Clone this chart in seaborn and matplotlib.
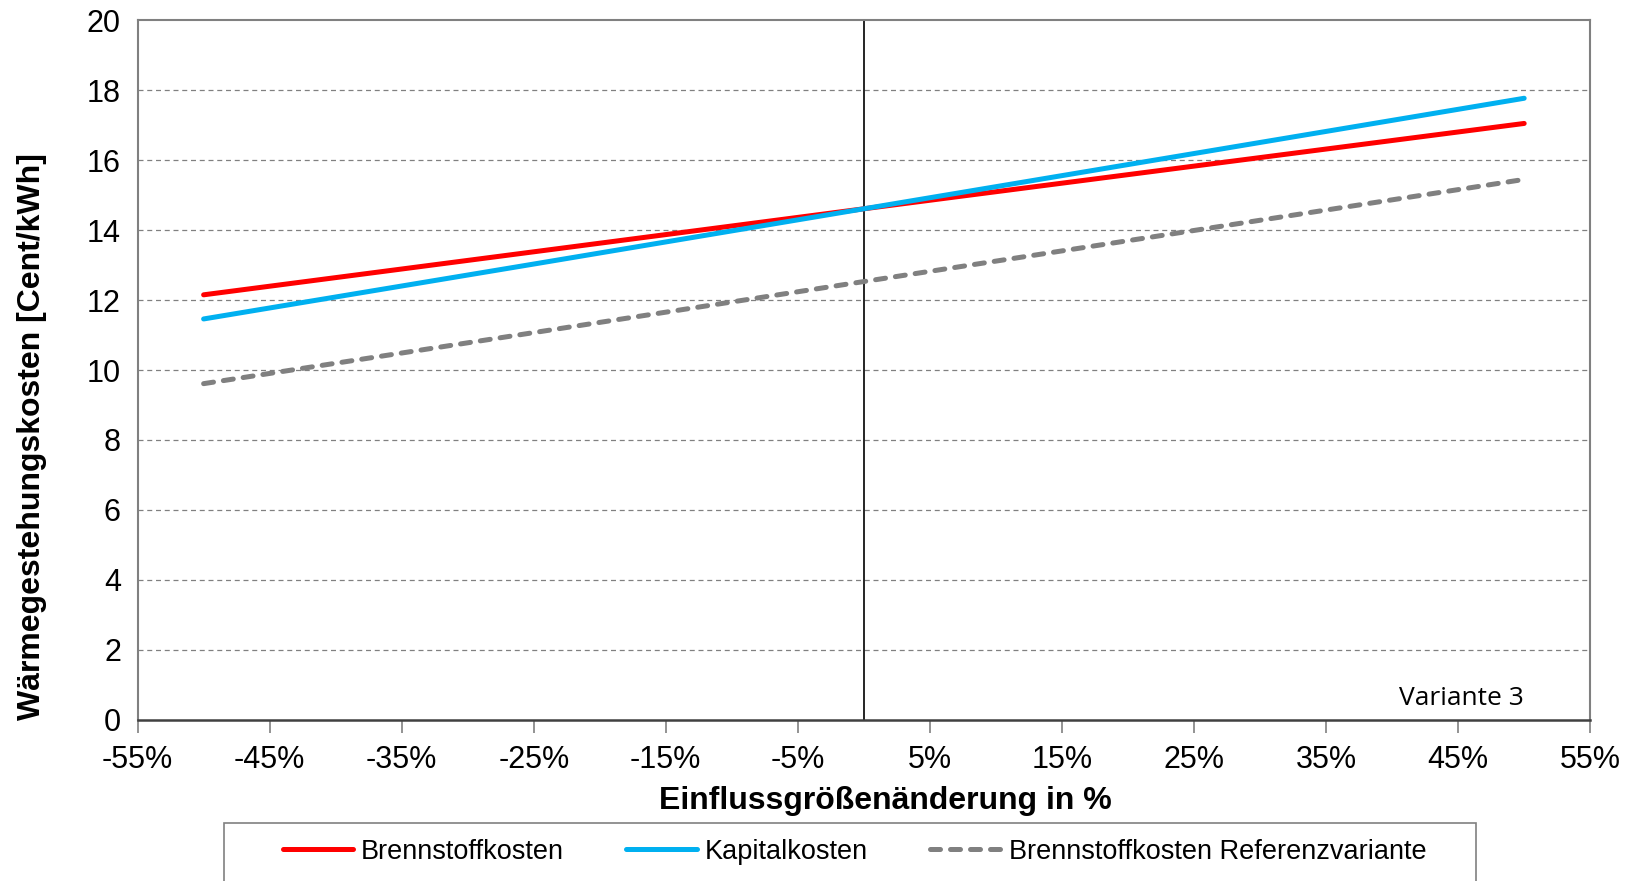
import numpy as np
import pandas as pd
import matplotlib
matplotlib.use("Agg")
import matplotlib.pyplot as plt
from matplotlib.patches import Rectangle
from matplotlib.ticker import FuncFormatter
import seaborn as sns

# Change of the input parameter (%) and resulting heat generation costs (Cent/kWh)
change_pct = [-50, -25, 0, 25, 50]
brennstoffkosten = [12.15, 13.38, 14.61, 15.83, 17.05]
kapitalkosten = [11.46, 13.03, 14.61, 16.19, 17.77]
referenz = [9.61, 11.07, 12.53, 13.99, 15.45]

series_names = ["Brennstoffkosten", "Kapitalkosten", "Brennstoffkosten Referenzvariante"]
series_colors = ["#FF0000", "#00B0F0", "#808080"]
x_ticks = [-55, -45, -35, -25, -15, -5, 5, 15, 25, 35, 45, 55]
y_ticks = [0, 2, 4, 6, 8, 10, 12, 14, 16, 18, 20]

df = pd.DataFrame({
    "change": change_pct * 3,
    "cost": brennstoffkosten + kapitalkosten + referenz,
    "series": [series_names[0]] * len(change_pct)
    + [series_names[1]] * len(change_pct)
    + [series_names[2]] * len(change_pct),
})

sns.set_theme(style="white")
plt.rcParams["font.family"] = ["Liberation Sans", "DejaVu Sans"]
plt.rcParams["text.color"] = "black"
plt.rcParams["xtick.color"] = "black"
plt.rcParams["ytick.color"] = "black"
plt.rcParams["axes.labelcolor"] = "black"

fig = plt.figure(figsize=(16.34, 8.81), dpi=100)
ax = fig.add_axes([0.0842, 0.183, 0.889, 0.794])

# horizontal dashed grid
for yv in y_ticks[1:-1]:
    ax.axhline(yv, color="#808080", lw=0.9, ls=(0, (4, 3)), zorder=1)

# vertical reference line at 0 %
ax.axvline(0, color="black", lw=1.2, zorder=2)

sns.lineplot(
    data=df, x="change", y="cost", hue="series", style="series",
    hue_order=series_names, style_order=series_names,
    palette=dict(zip(series_names, series_colors)),
    dashes={series_names[0]: "", series_names[1]: "", series_names[2]: (2, 2)},
    linewidth=3.6, legend=False, ax=ax, zorder=3,
)
for line in ax.get_lines()[-3:]:
    line.set_solid_capstyle("round")
    line.set_dash_capstyle("round")

ax.set_xlim(-55, 55)
ax.set_ylim(0, 20)
ax.set_xticks(x_ticks)
ax.set_yticks(y_ticks)
ax.xaxis.set_major_formatter(FuncFormatter(lambda v, p: f"{v:.0f}%"))
ax.tick_params(axis="x", which="major", direction="out", length=9, width=1.2,
               color="#808080", labelcolor="black", labelsize=22, pad=9, bottom=True)
ax.tick_params(axis="y", which="major", length=0, labelsize=22, labelcolor="black", pad=12)

for side in ["left", "right", "top"]:
    ax.spines[side].set_color("#808080")
    ax.spines[side].set_linewidth(1.5)
ax.spines["bottom"].set_color("#404040")
ax.spines["bottom"].set_linewidth(1.8)

ax.set_xlabel("Einflussgrößenänderung in %", fontsize=23, fontweight="bold",
              labelpad=8, color="black")
ax.xaxis.label.set_x(0.515)
ax.set_ylabel("")
fig.text(0.0197, 0.504, "Wärmegestehungskosten [Cent/kWh]", rotation=90,
         ha="center", va="center", fontsize=23, fontweight="bold", color="black")

ax.text(0.954, 0.031, "Variante 3", transform=ax.transAxes, ha="right", va="center",
        fontsize=19, family=["Open Sans", "DejaVu Sans"], color="black")

# legend below the plot in a gray frame
handles = [
    plt.Line2D([], [], color=series_colors[0], lw=3.6, solid_capstyle="round"),
    plt.Line2D([], [], color=series_colors[1], lw=3.6, solid_capstyle="round"),
    plt.Line2D([], [], color=series_colors[2], lw=3.6, dashes=(2, 2), dash_capstyle="round"),
]
fig.add_artist(Rectangle((0.137, -0.05), 0.766, 0.116, transform=fig.transFigure,
                         facecolor="white", edgecolor="#808080", lw=1.2))
fig.legend(handles, series_names, loc="center", bbox_to_anchor=(0.523, 0.033),
           ncol=3, frameon=False, fontsize=19.5, handlelength=2.6, handletextpad=0.3,
           columnspacing=2.3)

fig.savefig("out.png", dpi=100)
